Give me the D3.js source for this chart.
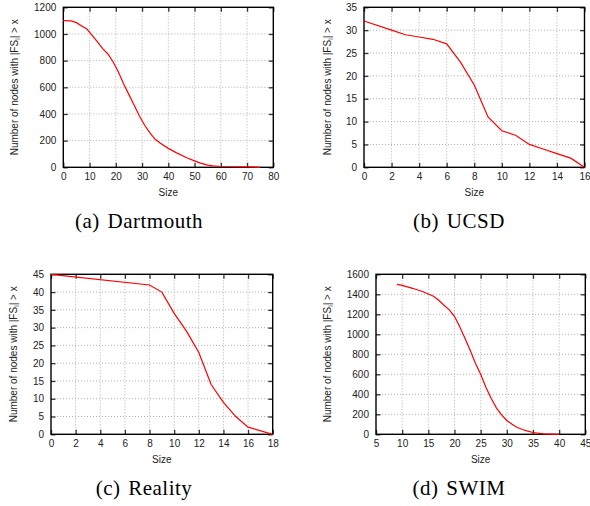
<!DOCTYPE html>
<html>
<head>
<meta charset="utf-8">
<script src="https://cdn.jsdelivr.net/npm/d3@7/dist/d3.min.js"></script>
<style>
  body { margin: 0; background: #fff; }
  svg { display: block; }
  .tick text { font-family: "Liberation Sans", Arial, sans-serif; font-size: 10px; fill: #222; }
  .title { font-family: "Liberation Sans", Arial, sans-serif; font-size: 10px; fill: #222; }
  .caption { font-family: "Liberation Serif", "Times New Roman", serif; font-size: 21px; fill: #000; letter-spacing: 0.5px; word-spacing: 2px; }
</style>
</head>
<body>
<svg id="fig" width="590" height="506"></svg>
<script>
// --- data ---
var dartmouthX = [0, 3, 5, 7, 9, 11, 13, 15, 17, 19, 21, 23, 25, 27, 29, 31, 33, 35, 37, 40, 43, 47, 50, 52, 55, 57, 60, 65, 70, 75];
var dartmouthY = [1100, 1098, 1085, 1060, 1037, 990, 940, 890, 850, 790, 715, 625, 545, 465, 385, 315, 258, 210, 180, 142, 110, 72, 48, 33, 16, 10, 6, 4, 3, 0];

var ucsdX = [0, 2, 3, 4, 5, 6, 7, 8, 9, 10, 11, 12, 13, 14, 15, 16];
var ucsdY = [32, 30, 29, 28.5, 28, 27, 23, 18, 11, 8, 7, 5, 4, 3, 2, 0];

var realityX = [0, 8, 9, 10, 11, 12, 13, 14, 15, 16, 18];
var realityY = [45, 42, 40, 34, 29, 23, 14, 9, 5, 2, 0];

var swimX = [9, 10, 12, 14, 16, 17, 18, 19, 20, 21, 22, 23, 24, 25, 26, 27, 28, 29, 30, 31, 32, 33, 34, 35, 37, 40];
var swimY = [1500, 1490, 1460, 1425, 1380, 1340, 1290, 1245, 1180, 1075, 960, 840, 710, 600, 470, 360, 265, 195, 138, 100, 68, 48, 32, 18, 5, 0];

var dartmouthXTicks = d3.range(0, 81, 10), dartmouthYTicks = d3.range(0, 1201, 200);
var ucsdXTicks = d3.range(0, 17, 2), ucsdYTicks = d3.range(0, 36, 5);
var realityXTicks = d3.range(0, 19, 2), realityYTicks = d3.range(0, 46, 5);
var swimXTicks = d3.range(5, 46, 5), swimYTicks = d3.range(0, 1601, 200);

var captions = ["(a) Dartmouth", "(b) UCSD", "(c) Reality", "(d) SWIM"];

var panels = [
  { xs: dartmouthX, ys: dartmouthY, xt: dartmouthXTicks, yt: dartmouthYTicks, cap: captions[0],
    left: 63.3, right: 273.3, top: 7.3, bottom: 167.3, ytOff: 49, capX: 139, capY: 228 },
  { xs: ucsdX, ys: ucsdY, xt: ucsdXTicks, yt: ucsdYTicks, cap: captions[1],
    left: 364, right: 584.5, top: 7.3, bottom: 167.3, ytOff: 37, capX: 459, capY: 228 },
  { xs: realityX, ys: realityY, xt: realityXTicks, yt: realityYTicks, cap: captions[2],
    left: 51, right: 272.7, top: 274.3, bottom: 434.3, ytOff: 38, capX: 144, capY: 495 },
  { xs: swimX, ys: swimY, xt: swimXTicks, yt: swimYTicks, cap: captions[3],
    left: 376, right: 585.3, top: 274.3, bottom: 434.3, ytOff: 49, capX: 459, capY: 495 }
];

var svg = d3.select('#fig');

panels.forEach(function (p) {
  var w = p.right - p.left, h = p.bottom - p.top;
  var x = d3.scaleLinear().domain(d3.extent(p.xt)).range([0, w]);
  var y = d3.scaleLinear().domain(d3.extent(p.yt)).range([h, 0]);
  var g = svg.append('g').attr('transform', 'translate(' + p.left + ',' + p.top + ')');

  // dotted grid
  var inner = function (t) { return function (v) { return v !== t[0] && v !== t[t.length - 1]; }; };
  g.append('g').selectAll('line').data(p.xt.filter(inner(p.xt))).join('line')
    .attr('x1', x).attr('x2', x).attr('y1', 0).attr('y2', h)
    .attr('stroke', '#b0b0b0').attr('stroke-width', 1).attr('stroke-dasharray', '1,2');
  g.append('g').selectAll('line').data(p.yt.filter(inner(p.yt))).join('line')
    .attr('y1', y).attr('y2', y).attr('x1', 0).attr('x2', w)
    .attr('stroke', '#b0b0b0').attr('stroke-width', 1).attr('stroke-dasharray', '1,2');

  // axes with inward ticks, mirrored on top/right
  function style(sel) {
    sel.select('.domain').remove();
    sel.selectAll('.tick line').attr('stroke', '#333').attr('stroke-width', 1.3);
  }
  g.append('g').attr('transform', 'translate(0,' + h + ')')
    .call(d3.axisBottom(x).tickValues(p.xt).tickSize(-4.5).tickPadding(6).tickFormat(d3.format('d')))
    .call(style);
  g.append('g')
    .call(d3.axisTop(x).tickValues(p.xt).tickSize(-4.5).tickFormat(''))
    .call(style);
  g.append('g')
    .call(d3.axisLeft(y).tickValues(p.yt).tickSize(-4.5).tickPadding(7).tickFormat(d3.format('d')))
    .call(style);
  g.append('g').attr('transform', 'translate(' + w + ',0)')
    .call(d3.axisRight(y).tickValues(p.yt).tickSize(-4.5).tickFormat(''))
    .call(style);
  g.selectAll('.tick text').attr('fill', '#222');

  // frame
  g.append('rect').attr('width', w).attr('height', h)
    .attr('fill', 'none').attr('stroke', '#000').attr('stroke-width', 1.4);

  // curve
  var pts = p.xs.map(function (v, i) { return [v, p.ys[i]]; });
  g.append('path').datum(pts)
    .attr('fill', 'none').attr('stroke', '#ff0000').attr('stroke-width', 1.2)
    .attr('d', d3.line().x(function (d) { return x(d[0]); }).y(function (d) { return y(d[1]); }));

  // axis titles
  g.append('text').attr('class', 'title').attr('x', w / 2).attr('y', h + 29)
    .attr('text-anchor', 'middle').text('Size');
  var yt = g.append('text').attr('class', 'title').attr('text-anchor', 'middle')
    .attr('transform', 'translate(' + (-p.ytOff + 3.5) + ',' + (h / 2) + ') rotate(-90)');
  yt.append('tspan').text('Number of nodes with |FS');
  yt.append('tspan').attr('font-size', '7px').attr('dy', 2.5).text('i');
  yt.append('tspan').attr('dy', -2.5).text('| > x');

  // caption
  svg.append('text').attr('class', 'caption').attr('x', p.capX).attr('y', p.capY)
    .attr('text-anchor', 'middle').text(p.cap);
});
</script>
</body>
</html>
